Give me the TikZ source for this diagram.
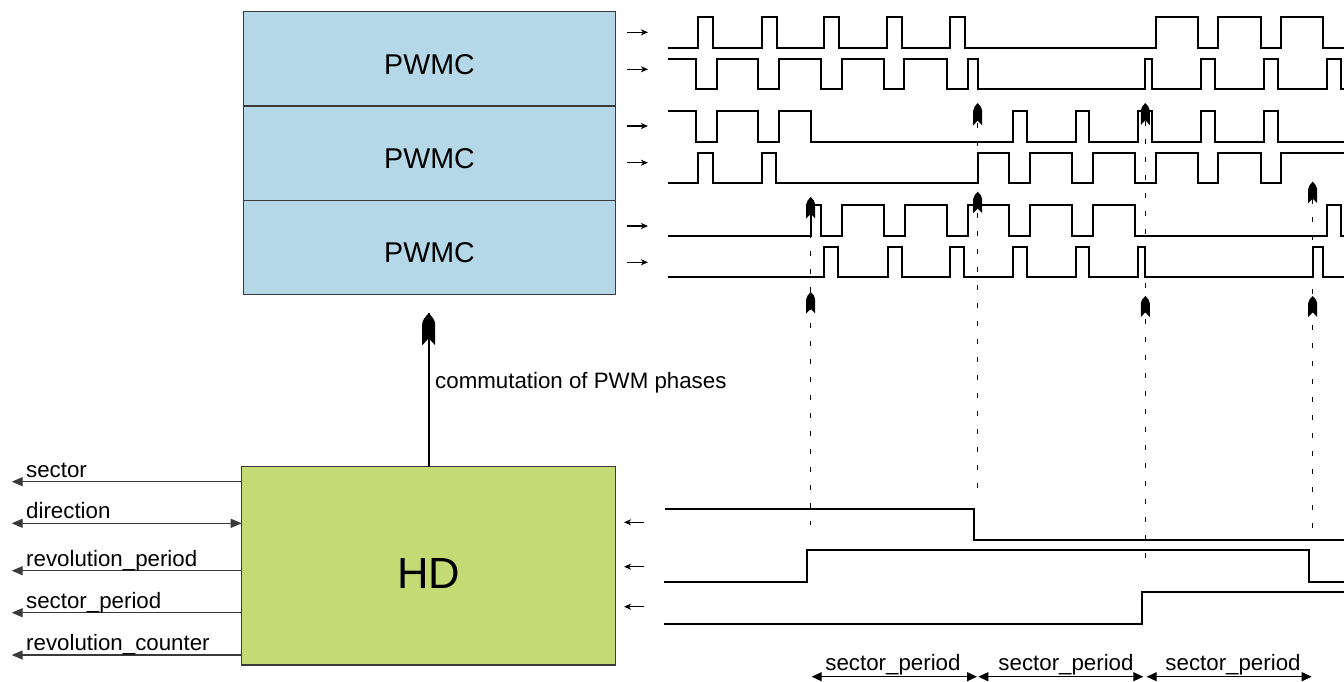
\documentclass[tikz,border=0pt]{standalone}
\usepackage{fontspec}
\setmainfont{Liberation Sans}
\usetikzlibrary{arrows.meta}
\definecolor{pwmcblue}{HTML}{B4D8E7}
\definecolor{hdgreen}{HTML}{C4DA75}
\definecolor{edgegray}{HTML}{3A3A3A}
\tikzset{
  pics/rocket/.style 2 args={code={
    \fill (0,0) .. controls (0.25*#1,0.1*#2) and (0.5*#1,0.22*#2) .. (0.5*#1,0.34*#2)
      -- (0.5*#1,#2) -- (0,0.78*#2) -- (-0.5*#1,#2) -- (-0.5*#1,0.34*#2)
      .. controls (-0.5*#1,0.22*#2) and (-0.25*#1,0.1*#2) .. (0,0) -- cycle;
  }},
  sighead/.tip={Triangle[length=11pt,width=9pt]},
  dimhead/.tip={Triangle[length=10pt,width=9pt]},
}
\begin{document}
\begin{tikzpicture}[x=1pt,y=-1pt,
  blockbox/.style={draw=edgegray, line width=1.2pt, inner sep=0pt, outer sep=0pt, anchor=north west},
  pwtxt/.style={font=\fontsize{28.6}{30}\selectfont, inner sep=0pt, anchor=base},
  hdtxt/.style={font=\fontsize{43.6}{46}\selectfont, inner sep=0pt, anchor=base},
  lbl/.style={font=\fontsize{22.3}{24}\selectfont, inner sep=0pt},
  wave/.style={line width=1.7pt, line join=miter},
  guide/.style={line width=1.3pt, dash pattern=on 4.5pt off 13.5pt},
  sigline/.style={draw=edgegray, line width=1.3pt},
  tickarrow/.style={line width=1.3pt, -{Stealth[length=7pt,width=6pt,inset=2pt]}},
  dimline/.style={line width=1.3pt, {dimhead}-{dimhead}},
]
\useasboundingbox (0,0) rectangle (1344,681);

% ---------- blocks ----------
\node[blockbox, fill=pwmcblue, minimum width=372.4pt, minimum height=94.3pt] (pw1) at (243.3,11.7) {};
\node[blockbox, fill=pwmcblue, minimum width=372.4pt, minimum height=94.3pt] (pw2) at (243.3,106) {};
\node[blockbox, fill=pwmcblue, minimum width=372.4pt, minimum height=94.3pt] (pw3) at (243.3,200.3) {};
\node[pwtxt] (tpw1) at (429.5,74) {PWMC};
\node[pwtxt] (tpw2) at (429.5,168.3) {PWMC};
\node[pwtxt] (tpw3) at (429.5,262.6) {PWMC};

\node[blockbox, fill=hdgreen, minimum width=374pt, minimum height=198.3pt] (hd) at (241.7,466.7) {};
\node[hdtxt] (thd) at (428.7,588) {HD};

% ---------- commutation arrow ----------
\coordinate (ctip) at (428.7,313.3);
\draw[line width=2.4pt] (hd.north) -- (ctip);
\pic at (ctip) {rocket={13}{32}};
\node[lbl, anchor=base west] (tcom) at (435,388) {commutation of PWM phases};

% ---------- left signals ----------
\coordinate (s1) at (11.7,481.7);
\coordinate (s2) at (11.7,523.3);
\coordinate (s3) at (11.7,570.7);
\coordinate (s4) at (11.7,612.7);
\coordinate (s5) at (11.7,655);
\draw[sigline, -{sighead}] (hd.west |- s1) -- (s1);
\draw[sigline, {sighead}-{sighead}] (s2) -- (hd.west |- s2);
\draw[sigline, -{sighead}] (hd.west |- s3) -- (s3);
\draw[sigline, -{sighead}] (hd.west |- s4) -- (s4);
\draw[sigline, -{sighead}] (hd.west |- s5) -- (s5);
\node[lbl, anchor=base west] (ls1) at (26,477) {sector};
\node[lbl, anchor=base west] (ls2) at (26,518.6) {direction};
\node[lbl, anchor=base west] (ls3) at (26,566) {revolution\_period};
\node[lbl, anchor=base west] (ls4) at (26,608) {sector\_period};
\node[lbl, anchor=base west] (ls5) at (26,650.3) {revolution\_counter};

% ---------- PWM waveforms ----------
\foreach \yy [count=\i] in {32.3,69.3,126,162.7,226,262.3}{
  \coordinate (ta\i) at (627,\yy);
  \coordinate (tb\i) at (648,\yy);
  \draw[tickarrow] (ta\i) -- (tb\i);
}
% row 1
\draw[wave] (668,47.7) -| (698.3,16.7) -| (712.7,47.7) -| (761.7,16.7) -| (776.7,47.7)
  -| (824,16.7) -| (839,47.7) -| (886.7,16.7) -| (901.7,47.7) -| (950,16.7) -| (965,47.7)
  -| (1155.7,16.7) -| (1197.7,47.7) -| (1218.3,16.7) -| (1260.7,47.7) -| (1281,16.7)
  -| (1323.3,47.7) -- (1346,47.7);
% row 2
\draw[wave] (668,58.7) -| (696,89.3) -| (716.7,58.7) -| (758.3,89.3) -| (779,58.7)
  -| (821,89.3) -| (841.7,58.7) -| (884,89.3) -| (904.3,58.7) -| (946.7,89.3) -| (967.7,58.7)
  -| (978.3,89.3) -| (1145.3,58.7) -| (1152.3,89.3) -| (1201,58.7) -| (1215,89.3)
  -| (1264,58.7) -| (1277.7,89.3) -| (1326.7,58.7) -| (1340.7,89.3) -- (1346,89.3);
% row 3
\draw[wave] (668,110.7) -| (696,142.3) -| (716.7,110.7) -| (758.3,142.3) -| (779,110.7)
  -| (810.7,142.3) -| (1013.3,110.7) -| (1026.7,142.3) -| (1075.7,110.7) -| (1089.3,142.3)
  -| (1138.3,110.7) -| (1152.3,142.3) -| (1201,110.7) -| (1215,142.3) -| (1264,110.7)
  -| (1277.7,142.3) -- (1346,142.3);
% row 4
\draw[wave] (668,183.3) -| (698.3,152.7) -| (712.7,183.3) -| (761.7,152.7) -| (775.7,183.3)
  -| (977.7,152.7) -| (1009.3,183.3) -| (1030,152.7) -| (1071.7,183.3) -| (1092.7,152.7)
  -| (1135,183.3) -| (1155.7,152.7) -| (1197.7,183.3) -| (1218.3,152.7) -| (1260.7,183.3)
  -| (1281,152.7) -- (1346,152.7);
% row 5
\draw[wave] (668,236.3) -| (810.7,205.3) -| (820.7,236.3) -| (841.7,205.3) -| (884,236.3)
  -| (905,205.3) -| (946.7,236.3) -| (967.7,205.3) -| (1009.3,236.3) -| (1030,205.3)
  -| (1071.7,236.3) -| (1092.7,205.3) -| (1135,236.3) -| (1326.7,205.3) -| (1340.7,236.3)
  -- (1346,236.3);
% row 6
\draw[wave] (668,277.3) -| (824,246.7) -| (838.3,277.3) -| (887.7,246.7) -| (901.7,277.3)
  -| (950,246.7) -| (964,277.3) -| (1013.3,246.7) -| (1026.7,277.3) -| (1075.7,246.7)
  -| (1089.3,277.3) -| (1138.3,246.7) -| (1145,277.3) -| (1312.7,246.7) -| (1323.3,277.3)
  -- (1346,277.3);

% ---------- HD signals ----------
\foreach \yy [count=\i] in {522.3,566.7,606.7}{
  \coordinate (ra\i) at (644,\yy);
  \coordinate (rb\i) at (624,\yy);
  \draw[tickarrow] (ra\i) -- (rb\i);
}
\draw[wave] (665,509) -| (974,540) -- (1346,540);
\draw[wave] (664.3,581.7) -| (806.7,550) -| (1309,581.7) -- (1346,581.7);
\draw[wave] (664,624) -| (1141.7,592.3) -- (1346,592.3);

% ---------- guides ----------
\coordinate (ga0) at (810.7,215);  \coordinate (ga1) at (810.7,525);
\coordinate (gb0) at (977.7,123);  \coordinate (gb1) at (977.7,497);
\coordinate (gc0) at (1145.3,121); \coordinate (gc1) at (1145.3,565);
\coordinate (gd0) at (1312.7,199); \coordinate (gd1) at (1312.7,528);
\draw[guide] (ga0) -- (ga1);
\draw[guide] (gb0) -- (gb1);
\draw[guide] (gc0) -- (gc1);
\draw[guide] (gd0) -- (gd1);
\pic at (810.7,197) {rocket={9}{21.5}};
\pic at (810.7,292) {rocket={9}{21.5}};
\pic at (977.7,103) {rocket={9}{22.5}};
\pic at (977.7,191.7) {rocket={9}{21.5}};
\pic at (1145.3,103) {rocket={9}{22}};
\pic at (1145.3,296) {rocket={9}{21}};
\pic at (1312.7,181.7) {rocket={9}{21.5}};
\pic at (1312.7,296) {rocket={9}{21}};

% ---------- sector periods ----------
\coordinate (d0) at (811.7,676.7);
\coordinate (d1) at (977,676.7);
\coordinate (d2) at (978.3,676.7);
\coordinate (d3) at (1143.3,676.7);
\coordinate (d4) at (1146.7,676.7);
\coordinate (d5) at (1311.7,676.7);
\draw[dimline] (d0) -- (d1);
\draw[dimline] (d2) -- (d3);
\draw[dimline] (d4) -- (d5);
\node[lbl, anchor=base] (sp1) at (893,670) {sector\_period};
\node[lbl, anchor=base] (sp2) at (1066,670) {sector\_period};
\node[lbl, anchor=base] (sp3) at (1233,670) {sector\_period};
\end{tikzpicture}
\end{document}
